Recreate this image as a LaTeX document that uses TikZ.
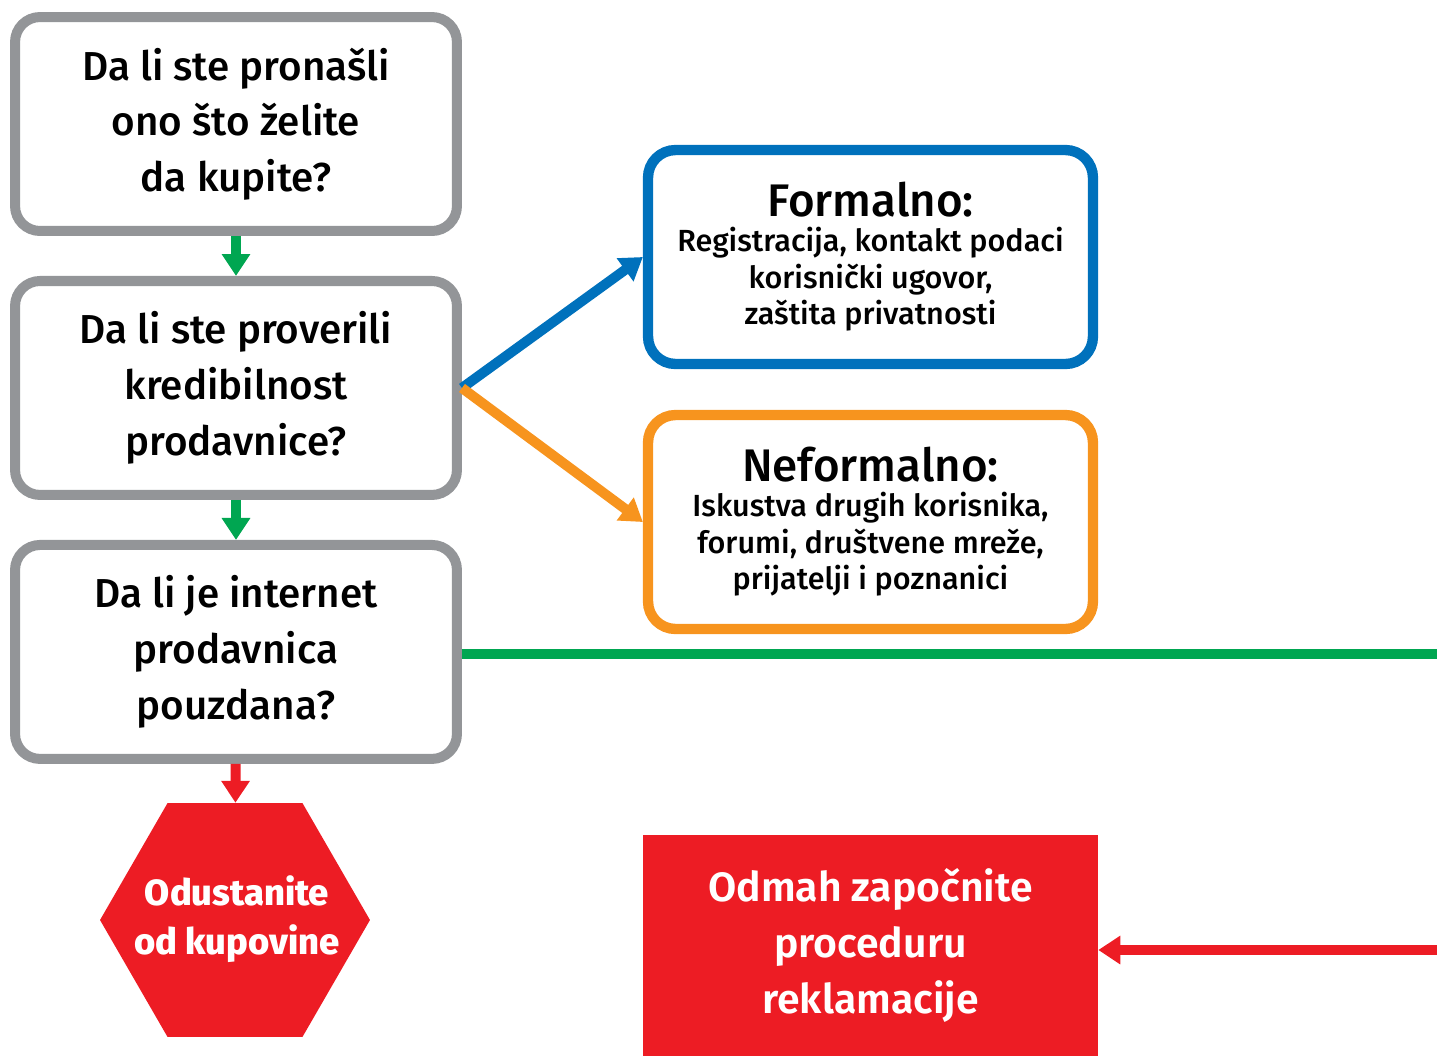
\documentclass[tikz,border=0pt]{standalone}
\usepackage{fontspec}
\setmainfont{Fira Sans}[UprightFont=* Medium, BoldFont=* SemiBold]
\newfontface\heavyfont{Fira Sans ExtraBold}
\usetikzlibrary{arrows.meta, positioning, shapes.geometric}

\definecolor{boxgray}{RGB}{147,149,152}
\definecolor{flowgreen}{RGB}{0,166,81}
\definecolor{formblue}{RGB}{0,113,188}
\definecolor{infoorange}{RGB}{247,148,30}
\definecolor{stopred}{RGB}{237,28,36}

\tikzset{
  question/.style={draw=boxgray, line width=5.7pt, rounded corners=0.5cm,
    minimum width=8.84cm, minimum height=4.28cm, align=center,
    font=\fontsize{23pt}{31.7pt}\selectfont},
  infobox/.style={line width=5.9pt, rounded corners=0.55cm,
    minimum width=8.9cm, minimum height=4.28cm, align=center,
    font=\fontsize{17.4pt}{21pt}\selectfont},
  flow/.style={line width=5.7pt, -{Triangle[length=12.5pt, width=15.5pt]}},
}

\begin{document}
\begin{tikzpicture}[x=0.02cm, y=-0.02cm]
  \useasboundingbox (0,0) rectangle (1437,1056);

  % Questions on the left
  \node[question] (found) at (236,124) {Da li ste pronašli\\ono što želite\\da kupite?};
  \node[question, below=0.8cm of found] (checked) {Da li ste proverili\\kredibilnost\\prodavnice?};
  \node[question, below=0.8cm of checked] (reliable) {Da li je internet\\prodavnica\\pouzdana?};

  % Ways to check the shop
  \node[infobox, draw=formblue] (formal) at (870.5,257)
    {{\fontsize{26pt}{30pt}\selectfont Formalno:}\\[-1.5pt]Registracija, kontakt podaci\\korisnički ugovor,\\zaštita privatnosti};
  \node[infobox, draw=infoorange] (informal) at (870.5,522)
    {{\fontsize{26pt}{30pt}\selectfont Neformalno:}\\[-1.5pt]Iskustva drugih korisnika,\\forumi, društvene mreže,\\prijatelji i poznanici};

  % Outcomes
  \node[regular polygon, regular polygon sides=6, minimum size=5.4cm, inner sep=0pt,
    fill=stopred,
    label={[text=white, align=center, xshift=0.04cm, yshift=0.02cm,
      font=\heavyfont\fontsize{20.7pt}{27.5pt}\selectfont]center:Odustanite\\od kupovine}]
    (giveup) at (235,920) {};
  \node[fill=stopred, text=white, minimum width=9.1cm, minimum height=4.42cm,
    inner sep=0pt, align=center, font=\bfseries\fontsize{23.3pt}{31.7pt}\selectfont]
    (complaint) at (870.5,945.5) {Odmah započnite\\proceduru\\reklamacije};

  % Connectors
  \draw[flow, flowgreen] (found) -- (checked);
  \draw[flow, flowgreen] (checked) -- (reliable);
  \draw[flow, formblue] (checked.east) -- (formal.west);
  \draw[flow, infoorange] (checked.east) -- (informal.west);
  \draw[flow, stopred] (reliable) -- (giveup);

  \coordinate (greenend) at (1437,654);
  \draw[line width=5.7pt, flowgreen] (reliable.east |- greenend) -- (greenend);
  \coordinate (redstart) at (1437,950);
  \draw[flow, stopred] (redstart) -- (complaint.east |- redstart);
\end{tikzpicture}
\end{document}
